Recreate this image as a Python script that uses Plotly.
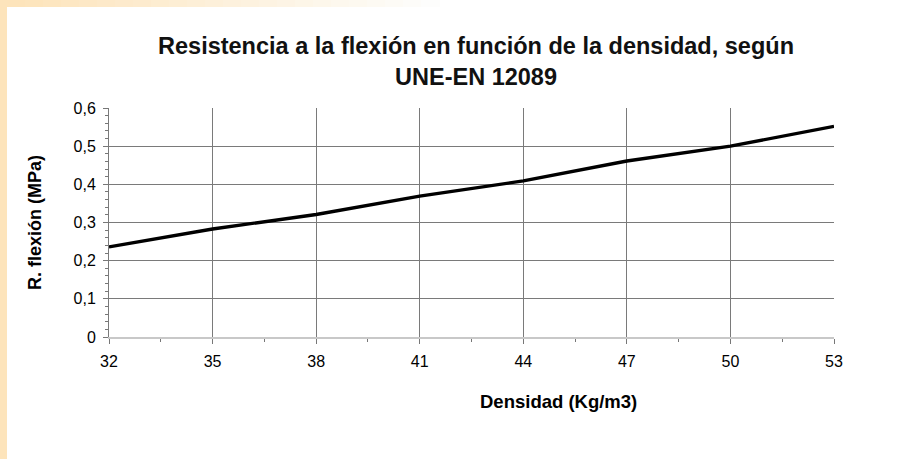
import plotly.graph_objects as go

# data
densidad = [32, 35, 38, 41, 44, 47, 50, 53]
resistencia = [0.236, 0.283, 0.321, 0.369, 0.409, 0.461, 0.500, 0.552]

x_ticks = [32, 35, 38, 41, 44, 47, 50, 53]
y_ticks = [0, 0.1, 0.2, 0.3, 0.4, 0.5, 0.6]
y_tick_text = ["0", "0,1", "0,2", "0,3", "0,4", "0,5", "0,6"]

W, H = 897, 459
L, R, T, B = 109, 63, 108, 122

fig = go.Figure()
fig.add_trace(go.Scatter(
    x=densidad, y=resistencia, mode="lines",
    line=dict(color="black", width=3.4), showlegend=False
))

# decorative frame: orange strip on the left, fading strip on top
pw, ph = W - L - R, H - T - B
def px_x(p):
    return (p - L) / pw
def px_y(p):
    return (H - B - p) / ph

shapes = [dict(type="rect", xref="paper", yref="paper",
               x0=px_x(0), x1=px_x(7), y0=px_y(459), y1=px_y(0),
               fillcolor="#fde4bb", line=dict(width=0), layer="below")]
n = 24
for i in range(n):
    t = i / n
    r, g, b = 253, int(228 + (255 - 228) * t), int(187 + (255 - 187) * t)
    shapes.append(dict(type="rect", xref="paper", yref="paper",
                       x0=px_x(7 + i * 18), x1=px_x(7 + (i + 1) * 18 + 1),
                       y0=px_y(7), y1=px_y(0),
                       fillcolor=f"rgb({r},{g},{b})", line=dict(width=0), layer="below"))

fig.update_layout(
    width=W, height=H,
    margin=dict(l=L, r=R, t=T, b=B),
    paper_bgcolor="white", plot_bgcolor="white",
    font=dict(family="Liberation Sans, Arial, sans-serif", color="black", size=14),
    title=dict(text="<b>Resistencia a la flexión en función de la densidad, según<br>UNE-EN 12089</b>",
               x=476 / W, xanchor="center", y=1 - 54 / H, yanchor="middle",
               font=dict(size=23.5, color="#111")),
    shapes=shapes,
    xaxis=dict(
        range=[32, 53], tickvals=x_ticks, ticks="outside", ticklen=5, tickcolor="#777",
        showgrid=True, gridcolor="#7a7a7a", gridwidth=1,
        showline=True, linecolor="#c8c8c8", linewidth=1.5, zeroline=False,
        minor=dict(dtick=1.5, tick0=32, ticks="outside", ticklen=3, tickcolor="#777", showgrid=False),
        tickfont=dict(size=16), ticklabelstandoff=4, fixedrange=True,
    ),
    yaxis=dict(
        range=[0, 0.6], tickvals=y_ticks, ticktext=y_tick_text, ticks="outside", ticklen=5, tickcolor="#777",
        showgrid=True, gridcolor="#7a7a7a", gridwidth=1,
        showline=True, linecolor="#7a7a7a", linewidth=1, zeroline=False,
        minor=dict(dtick=0.02, tick0=0, ticks="outside", ticklen=3, tickcolor="#777", showgrid=False),
        tickfont=dict(size=16), ticklabelstandoff=4,
        title=dict(text="<b>R. flexión (MPa)</b>", font=dict(size=18), standoff=27),
        fixedrange=True,
    ),
    annotations=[dict(text="<b>Densidad (Kg/m3)</b>", xref="paper", yref="paper",
                      x=px_x(558), y=px_y(401), xanchor="center", yanchor="middle",
                      showarrow=False, font=dict(size=18.5))],
)

fig.write_html("out.html", config={"displayModeBar": False},
               post_script="document.body.style.margin='0';")
